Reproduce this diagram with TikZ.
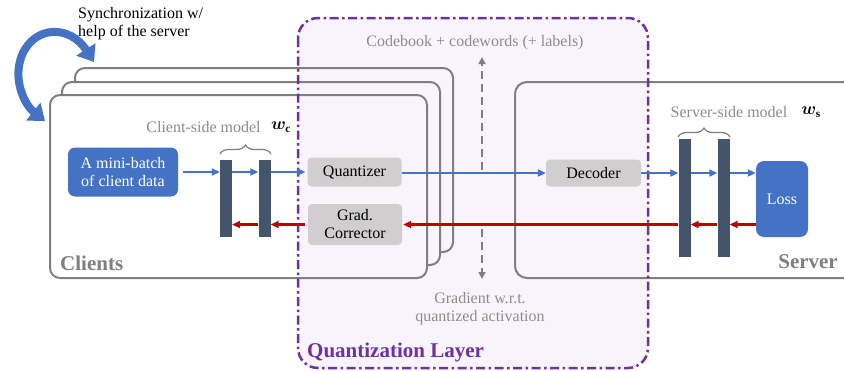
\documentclass[tikz,border=0pt]{standalone}
\usepackage{amsmath,bm}
\usepackage{fontspec}
\setmainfont{Liberation Serif}
\newfontfamily\labelface{Liberation Serif}
\usetikzlibrary{arrows.meta,decorations.pathreplacing}

\definecolor{qblue}{HTML}{4472C4}
\definecolor{qred}{HTML}{C00000}
\definecolor{qbar}{HTML}{44546A}
\definecolor{qpurple}{HTML}{7030A0}
\definecolor{qlav}{HTML}{F7F5FB}
\definecolor{qgray}{HTML}{7F7F7F}
\definecolor{qtext}{HTML}{8C8C8C}
\definecolor{qbox}{HTML}{D0CECE}

\tikzset{
  every node/.style={font=\labelface\fontsize{16}{18}\selectfont},
  fwd/.style={qblue, line width=2pt, -{Triangle[length=8pt,width=7pt]}},
  bwd/.style={qred, line width=2.5pt, -{Triangle[length=8pt,width=7pt]}},
  layerbar/.style={fill=qbar, minimum width=12pt, inner sep=0pt},
  opbox/.style={fill=qbox, rounded corners=4pt, minimum width=94pt, inner sep=0pt,
    align=center},
  bluebox/.style={fill=qblue, text=white, rounded corners=7pt, inner sep=0pt,
    align=center},
  note/.style={text=qtext, inner sep=0pt, align=center},
  weight/.style={inner sep=0pt},
  tag/.style={text=qgray, inner sep=0pt, font=\labelface\bfseries\fontsize{21}{24}\selectfont},
  frame/.style={draw=qgray, line width=2pt},
  hint/.style={qgray, line width=2pt, dash pattern=on 8pt off 5pt,
    -{Triangle[length=7pt,width=7pt]}},
  brace/.style={draw=qgray, line width=1.2pt, decorate,
    decoration={brace, amplitude=9pt}},
}

% container box: white body, lavender where it overlaps the quantization layer
\newcommand\containerbox[3]{%
  \fill[white, rounded corners=#1] #2 rectangle #3;
  \begin{scope}
    \clip[rounded corners=#1] #2 rectangle #3;
    \fill[qlav, rounded corners=20pt] (298,18) rectangle (648,368);
  \end{scope}
  \draw[frame, rounded corners=#1] #2 rectangle #3;
}

\begin{document}
\begin{tikzpicture}[x=1pt, y=-1pt]
\clip (0,0) rectangle (844,370);

% quantization layer background
\fill[qlav, rounded corners=20pt] (298,18) rectangle (648,368);

% stacked client boxes and the server box
\containerbox{10pt}{(75,68)}{(453,252)}
\containerbox{10pt}{(62,82)}{(440,265)}
\containerbox{10pt}{(50,95)}{(427,278)}
\containerbox{12pt}{(515,82)}{(870,278)}

% quantization layer border
\draw[qpurple, line width=2.5pt, rounded corners=20pt,
  dash pattern=on 9pt off 3.5pt on 2.5pt off 3.5pt] (298,18) rectangle (648,368);

% client side
\node[bluebox, minimum width=110pt, minimum height=49pt] (batch) at (123,172)
  {A mini-batch\\of client data};
\node[layerbar, minimum height=77pt] (c1) at (226,198.5) {};
\node[layerbar, minimum height=77pt] (c2) at (264.5,198.5) {};
\draw[brace] (220,154) -- (271,154);
\node[note] (cmodel) at (203.5,127) {Client-side model};
\node[weight] (wc) at (281,127) {$\bm{w}_{\mathbf{c}}$};

% quantization layer blocks
\node[opbox, minimum height=29pt] (quant) at (354.5,172) {Quantizer};
\node[opbox, minimum height=41pt] (corr) at (355,224.5) {Grad.\\Corrector};
\node[opbox, minimum height=27pt, minimum width=95pt] (dec) at (593.5,173) {Decoder};

% server side
\node[layerbar, minimum height=118pt] (s1) at (684.5,198) {};
\node[layerbar, minimum height=118pt] (s2) at (723.5,198) {};
\node[bluebox, minimum width=52pt, minimum height=76pt, rounded corners=8pt] (loss)
  at (782,199) {Loss};
\draw[brace] (678,137) -- (730,137);
\node[note] (smodel) at (729,112) {Server-side model};
\node[weight] (ws) at (811,112) {$\bm{w}_{\mathbf{s}}$};

% forward pass
\draw[fwd] ([xshift=5pt]batch.east) -- (batch.east -| c1.west);
\draw[fwd] (batch.east -| c1.east) -- (batch.east -| c2.west);
\draw[fwd] (batch.east -| c2.east) -- ([xshift=-2pt]quant.west);
\draw[fwd] (quant.east |- dec.west) -- (dec.west);
\draw[fwd] (dec.east) -- (dec.east -| s1.west);
\draw[fwd] (dec.east -| s1.east) -- (dec.east -| s2.west);
\draw[fwd] (dec.east -| s2.east) -- (dec.east -| loss.west);

% backward pass
\draw[bwd] (corr.east -| loss.west) -- (corr.east -| s2.east);
\draw[bwd] (corr.east -| s2.west) -- (corr.east -| s1.east);
\draw[bwd] (corr.east -| s1.west) -- ([xshift=1pt]corr.east);
\draw[bwd] ([xshift=-3pt]corr.west) -- (corr.west -| c2.east);
\draw[bwd] (corr.west -| c2.west) -- (corr.west -| c1.east);

% codebook exchange hints
\coordinate (upfrom) at (482,170);
\coordinate (upto) at (482,57);
\coordinate (dnfrom) at (482,229);
\coordinate (dnto) at (482,279);
\draw[hint] (upfrom) -- (upto);
\draw[hint] (dnfrom) -- (dnto);
\node[note] (codebook) at (475,43) {Codebook + codewords (+ labels)};
\node[note] (gradnote) at (480,309) {Gradient w.r.t.\\quantized activation};

% synchronization among clients
\coordinate (synca) at (94,62);
\coordinate (syncb) at (45,121);
\draw[qblue, line width=8pt,
  {Triangle[length=15pt,width=22pt]}-{Triangle[length=15pt,width=22pt]}]
  (synca) .. controls (70,25) and (35,25) .. (22,55)
          .. controls (12,80) and (25,105) .. (syncb);
\node[inner sep=0pt, anchor=west, align=left] (synctext) at (78,24)
  {Synchronization w/\\help of the server};

% region labels
\node[tag, anchor=west] (clients) at (60,263) {Clients};
\node[tag, anchor=east] (server) at (838,262) {Server};
\node[tag, text=qpurple, anchor=west] (qlayer) at (307,352) {Quantization Layer};

\end{tikzpicture}
\end{document}
